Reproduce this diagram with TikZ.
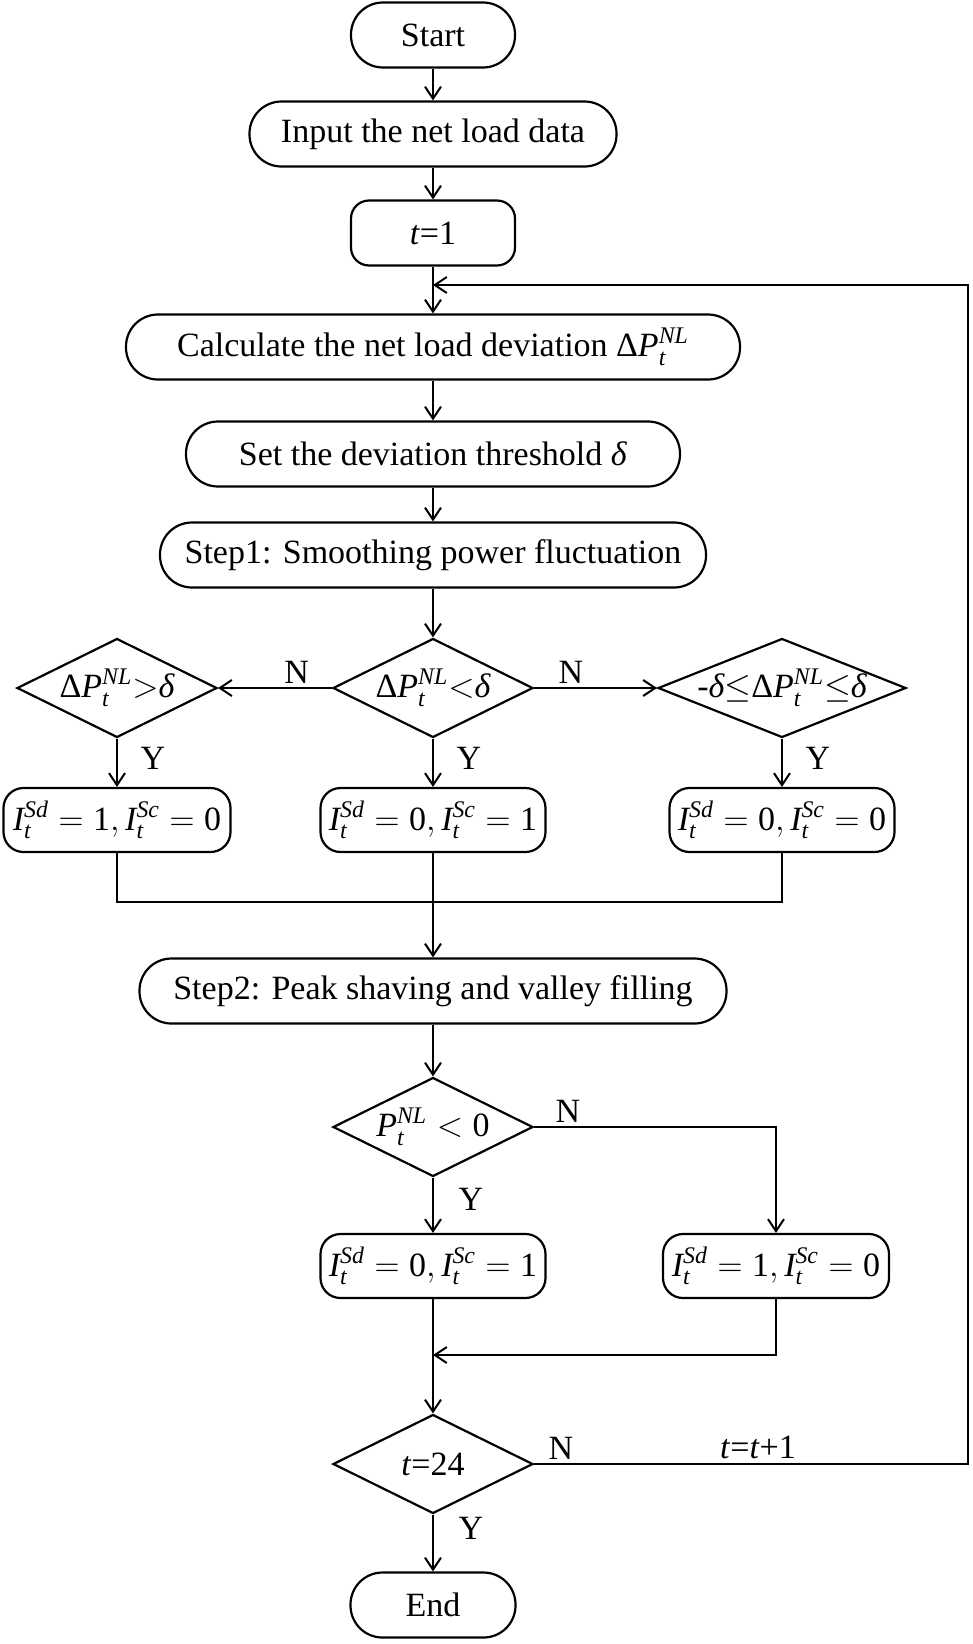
\documentclass[tikz,border=0pt]{standalone}
\usepackage{amsmath}
\usepackage{fontspec}
\setmainfont{Liberation Serif}
\usetikzlibrary{shapes.geometric, arrows.meta, positioning}
\newcommand{\flowvar}[3]{\textit{#1}_{\textit{#2}}^{\textit{#3}}}

\begin{document}
\begin{tikzpicture}[x=0.5pt, y=-0.5pt, line width=1pt,
  font=\fontsize{17}{20}\selectfont,
  terminal/.style={draw, line width=1.1pt, rounded corners=16pt, minimum height=32.5pt, inner sep=2pt},
  process/.style={draw, line width=1.1pt, rounded corners=9pt, minimum height=32.5pt, inner sep=2pt},
  result/.style={draw, line width=1.1pt, rounded corners=10pt, minimum height=32pt, inner sep=1pt},
  decision/.style={diamond, draw, line width=1.1pt, inner sep=0pt, minimum height=49.5pt},
  flow/.style={-{Straight Barb[length=6pt,width=8pt]}}]
\useasboundingbox (0,0) rectangle (973,1644);

% Start and set-up
\node[terminal, minimum width=82pt] (start) at (433,35) {Start};
\node[terminal, minimum width=183.5pt] (input) at (433,134) {Input the net load data};
\node[process, minimum width=82pt] (t1) at (433,233) {\textit{t}=1};
\node[terminal, minimum width=307pt] (calc) at (433,347) {Calculate the net load deviation $\text{Δ}\flowvar{P}{t}{NL}$};
\node[terminal, minimum width=247pt] (thr) at (433,454) {Set the deviation threshold \textit{δ}};
\node[terminal, minimum width=273pt] (step1) at (433,555) {Step1: Smoothing power fluctuation};

% Step 1 decisions
\node[decision, minimum width=100pt] (dpos) at (117,688) {\makebox[0pt]{$\text{Δ}\flowvar{P}{t}{NL}{>}\textit{δ}$}};
\node[decision, minimum width=100pt] (dmid) at (433,688) {\makebox[0pt]{$\text{Δ}\flowvar{P}{t}{NL}{<}\textit{δ}$}};
\node[decision, minimum width=124pt] (dband) at (782,688) {\makebox[0pt]{$\text{-}\textit{δ}{\le}\text{Δ}\flowvar{P}{t}{NL}{\le}\textit{δ}$}};
\node[result, minimum width=113.5pt] (r1) at (117,820) {$\flowvar{I}{t}{Sd}=\text{1},\flowvar{I}{t}{Sc}=\text{0}$};
\node[result, minimum width=112.5pt] (r2) at (433,820) {$\flowvar{I}{t}{Sd}=\text{0},\flowvar{I}{t}{Sc}=\text{1}$};
\node[result, minimum width=112.5pt] (r3) at (782,820) {$\flowvar{I}{t}{Sd}=\text{0},\flowvar{I}{t}{Sc}=\text{0}$};
\coordinate (merge1) at (433,902);

% Step 2 decisions
\node[terminal, minimum width=293.5pt] (step2) at (433,991) {Step2: Peak shaving and valley filling};
\node[decision, minimum width=100pt] (dcheck) at (433,1127) {\makebox[0pt]{$\flowvar{P}{t}{NL}<\text{0}$}};
\node[result, minimum width=112.5pt] (r4) at (433,1266) {$\flowvar{I}{t}{Sd}=\text{0},\flowvar{I}{t}{Sc}=\text{1}$};
\node[result, minimum width=113pt] (r5) at (776,1266) {$\flowvar{I}{t}{Sd}=\text{1},\flowvar{I}{t}{Sc}=\text{0}$};
\coordinate (merge2) at (433,1355);

% Time loop and end
\node[decision, minimum width=100pt] (dend) at (433,1464) {\makebox[0pt]{\textit{t}=24}};
\node[terminal, minimum width=82.5pt] (end) at (433,1605) {End};
\coordinate (join) at (433,285);
\coordinate (loop) at (968,285);

% Connectors
\draw[flow] (start) -- (input);
\draw[flow] (input) -- (t1);
\draw[flow] (t1) -- (calc);
\draw[flow] (calc) -- (thr);
\draw[flow] (thr) -- (step1);
\draw[flow] (step1) -- (dmid);
\draw[flow] (dmid) -- node[pos=0.31, above, inner sep=2pt] {N} (dpos);
\draw[flow] (dmid) -- node[pos=0.3, above, inner sep=2pt] {N} (dband);
\draw[flow] (dpos) -- node[pos=0.4, right=8pt] {Y} (r1);
\draw[flow] (dmid) -- node[pos=0.4, right=8pt] {Y} (r2);
\draw[flow] (dband) -- node[pos=0.4, right=8pt] {Y} (r3);
\draw (r1) |- (merge1);
\draw (r3) |- (merge1);
\draw[flow] (r2) -- (step2);
\draw[flow] (step2) -- (dcheck);
\draw[flow] (dcheck) -- node[pos=0.4, right=9pt] {Y} (r4);
\draw[flow] (dcheck) -| node[pos=0.07, above, inner sep=2pt] {N} (r5);
\draw[flow] (r4) -- (dend);
\draw[flow] (r5) |- (merge2);
\draw[flow] (dend) -- node[pos=0.25, right=9pt] {Y} (end);
\draw[flow] (dend.east) -- node[pos=0.062, above, inner sep=2pt] {N}
  node[pos=0.516, above, inner sep=2pt] {\textit{t}=\textit{t}+1} (dend.east -| loop) -- (loop) -- (join);
\end{tikzpicture}
\end{document}
